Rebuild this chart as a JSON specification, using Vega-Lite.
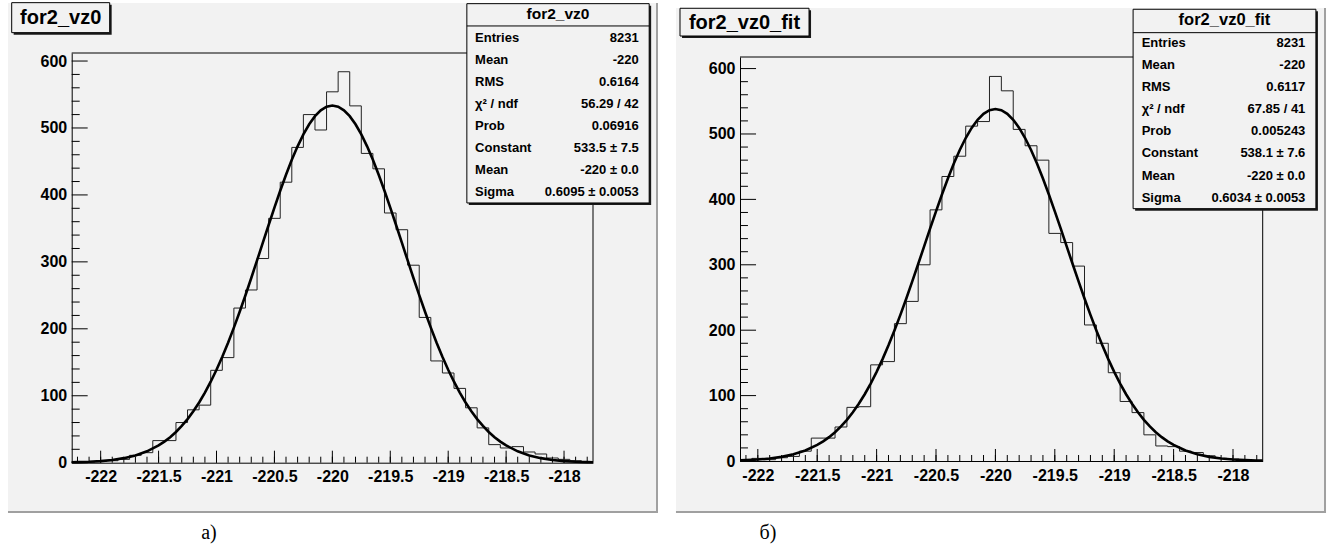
{
  "$schema": "https://vega.github.io/schema/vega-lite/v6.json",
  "background": "white",
  "padding": {"left": 7, "top": 2, "right": 2, "bottom": 0},
  "spacing": 18,
  "bounds": "flush",
  "config": {
    "view": {"stroke": null, "fill": "#f2f2f2"},
    "axis": {"grid": false, "labelFont": "Liberation Sans", "labelFontWeight": "bold", "labelFontSize": 16, "labelColor": "#000", "domainColor": "#000", "tickColor": "#000", "tickWidth": 1, "domainWidth": 1, "labelOverlap": false, "labelFlush": false},
    "text": {"font": "Liberation Sans", "fontWeight": "bold", "color": "#000"}
  },
  "datasets": {
    "one": [{}],
    "xmaj": [{"v": -222}, {"v": -221.5}, {"v": -221}, {"v": -220.5}, {"v": -220}, {"v": -219.5}, {"v": -219}, {"v": -218.5}, {"v": -218}],
    "xminA": [{"v": -222.2}, {"v": -222.1}, {"v": -222.0}, {"v": -221.9}, {"v": -221.8}, {"v": -221.7}, {"v": -221.6}, {"v": -221.5}, {"v": -221.4}, {"v": -221.3}, {"v": -221.2}, {"v": -221.1}, {"v": -221.0}, {"v": -220.9}, {"v": -220.8}, {"v": -220.7}, {"v": -220.6}, {"v": -220.5}, {"v": -220.4}, {"v": -220.3}, {"v": -220.2}, {"v": -220.1}, {"v": -220.0}, {"v": -219.9}, {"v": -219.8}, {"v": -219.7}, {"v": -219.6}, {"v": -219.5}, {"v": -219.4}, {"v": -219.3}, {"v": -219.2}, {"v": -219.1}, {"v": -219.0}, {"v": -218.9}, {"v": -218.8}, {"v": -218.7}, {"v": -218.6}, {"v": -218.5}, {"v": -218.4}, {"v": -218.3}, {"v": -218.2}, {"v": -218.1}, {"v": -218.0}, {"v": -217.9}, {"v": -217.8}],
    "xminB": [{"v": -222.1}, {"v": -222.0}, {"v": -221.9}, {"v": -221.8}, {"v": -221.7}, {"v": -221.6}, {"v": -221.5}, {"v": -221.4}, {"v": -221.3}, {"v": -221.2}, {"v": -221.1}, {"v": -221.0}, {"v": -220.9}, {"v": -220.8}, {"v": -220.7}, {"v": -220.6}, {"v": -220.5}, {"v": -220.4}, {"v": -220.3}, {"v": -220.2}, {"v": -220.1}, {"v": -220.0}, {"v": -219.9}, {"v": -219.8}, {"v": -219.7}, {"v": -219.6}, {"v": -219.5}, {"v": -219.4}, {"v": -219.3}, {"v": -219.2}, {"v": -219.1}, {"v": -219.0}, {"v": -218.9}, {"v": -218.8}, {"v": -218.7}, {"v": -218.6}, {"v": -218.5}, {"v": -218.4}, {"v": -218.3}, {"v": -218.2}, {"v": -218.1}, {"v": -218.0}, {"v": -217.9}, {"v": -217.8}],
    "ymaj": [{"v": 0}, {"v": 100}, {"v": 200}, {"v": 300}, {"v": 400}, {"v": 500}, {"v": 600}],
    "ymin": [{"v": 20}, {"v": 40}, {"v": 60}, {"v": 80}, {"v": 120}, {"v": 140}, {"v": 160}, {"v": 180}, {"v": 220}, {"v": 240}, {"v": 260}, {"v": 280}, {"v": 320}, {"v": 340}, {"v": 360}, {"v": 380}, {"v": 420}, {"v": 440}, {"v": 460}, {"v": 480}, {"v": 520}, {"v": 540}, {"v": 560}, {"v": 580}],
    "hA": [
      {"lo": -222.25, "n": 1}, {"lo": -222.15, "n": 1}, {"lo": -222.05, "n": 2}, {"lo": -221.95, "n": 3}, {"lo": -221.85, "n": 5},
      {"lo": -221.75, "n": 11}, {"lo": -221.65, "n": 15}, {"lo": -221.55, "n": 33}, {"lo": -221.45, "n": 33}, {"lo": -221.35, "n": 60},
      {"lo": -221.25, "n": 79}, {"lo": -221.15, "n": 86}, {"lo": -221.05, "n": 138}, {"lo": -220.95, "n": 157}, {"lo": -220.85, "n": 231},
      {"lo": -220.75, "n": 258}, {"lo": -220.65, "n": 305}, {"lo": -220.55, "n": 365}, {"lo": -220.45, "n": 419}, {"lo": -220.35, "n": 471},
      {"lo": -220.25, "n": 520}, {"lo": -220.15, "n": 497}, {"lo": -220.05, "n": 554}, {"lo": -219.95, "n": 584}, {"lo": -219.85, "n": 533},
      {"lo": -219.75, "n": 462}, {"lo": -219.65, "n": 439}, {"lo": -219.55, "n": 373}, {"lo": -219.45, "n": 348}, {"lo": -219.35, "n": 295},
      {"lo": -219.25, "n": 217}, {"lo": -219.15, "n": 152}, {"lo": -219.05, "n": 134}, {"lo": -218.95, "n": 111}, {"lo": -218.85, "n": 82},
      {"lo": -218.75, "n": 52}, {"lo": -218.65, "n": 27}, {"lo": -218.55, "n": 22}, {"lo": -218.45, "n": 24}, {"lo": -218.35, "n": 16},
      {"lo": -218.25, "n": 13}, {"lo": -218.15, "n": 7}, {"lo": -218.05, "n": 5}, {"lo": -217.95, "n": 3}, {"lo": -217.85, "n": 1}
    ],
    "hB": [
      {"lo": -222.15, "n": 1}, {"lo": -222.05, "n": 4}, {"lo": -221.95, "n": 2}, {"lo": -221.85, "n": 5}, {"lo": -221.75, "n": 7},
      {"lo": -221.65, "n": 15}, {"lo": -221.55, "n": 35}, {"lo": -221.45, "n": 35}, {"lo": -221.35, "n": 52}, {"lo": -221.25, "n": 82},
      {"lo": -221.15, "n": 83}, {"lo": -221.05, "n": 147}, {"lo": -220.95, "n": 152}, {"lo": -220.85, "n": 210}, {"lo": -220.75, "n": 244},
      {"lo": -220.65, "n": 300}, {"lo": -220.55, "n": 384}, {"lo": -220.45, "n": 435}, {"lo": -220.35, "n": 466}, {"lo": -220.25, "n": 512},
      {"lo": -220.15, "n": 519}, {"lo": -220.05, "n": 588}, {"lo": -219.95, "n": 566}, {"lo": -219.85, "n": 507}, {"lo": -219.75, "n": 482},
      {"lo": -219.65, "n": 460}, {"lo": -219.55, "n": 348}, {"lo": -219.45, "n": 334}, {"lo": -219.35, "n": 298}, {"lo": -219.25, "n": 208},
      {"lo": -219.15, "n": 180}, {"lo": -219.05, "n": 135}, {"lo": -218.95, "n": 91}, {"lo": -218.85, "n": 74}, {"lo": -218.75, "n": 40},
      {"lo": -218.65, "n": 23}, {"lo": -218.55, "n": 22}, {"lo": -218.45, "n": 15}, {"lo": -218.35, "n": 13}, {"lo": -218.25, "n": 8},
      {"lo": -218.15, "n": 4}, {"lo": -218.05, "n": 3}, {"lo": -217.95, "n": 1}, {"lo": -217.85, "n": 1}
    ],
    "fA": [
      {"x": -222.25, "f": 0.6}, {"x": -222.2, "f": 0.8}, {"x": -222.1, "f": 1.4}, {"x": -222.0, "f": 2.4}, {"x": -221.9, "f": 4.1},
      {"x": -221.8, "f": 6.8}, {"x": -221.7, "f": 10.9}, {"x": -221.6, "f": 17.0}, {"x": -221.5, "f": 25.8}, {"x": -221.45, "f": 31.5},
      {"x": -221.4, "f": 38.1}, {"x": -221.35, "f": 45.9}, {"x": -221.3, "f": 54.9}, {"x": -221.25, "f": 65.1}, {"x": -221.2, "f": 76.8},
      {"x": -221.15, "f": 90.0}, {"x": -221.1, "f": 104.7}, {"x": -221.05, "f": 121.0}, {"x": -221.0, "f": 138.9}, {"x": -220.95, "f": 158.3},
      {"x": -220.9, "f": 179.3}, {"x": -220.85, "f": 201.8}, {"x": -220.8, "f": 225.5}, {"x": -220.75, "f": 250.2}, {"x": -220.7, "f": 275.9},
      {"x": -220.65, "f": 302.1}, {"x": -220.6, "f": 328.6}, {"x": -220.55, "f": 355.1}, {"x": -220.5, "f": 381.1}, {"x": -220.45, "f": 406.2},
      {"x": -220.4, "f": 430.1}, {"x": -220.35, "f": 452.4}, {"x": -220.3, "f": 472.6}, {"x": -220.25, "f": 490.5}, {"x": -220.2, "f": 505.5},
      {"x": -220.15, "f": 517.6}, {"x": -220.1, "f": 526.4}, {"x": -220.05, "f": 531.7}, {"x": -220.0, "f": 533.5}, {"x": -219.95, "f": 531.7},
      {"x": -219.9, "f": 526.4}, {"x": -219.85, "f": 517.6}, {"x": -219.8, "f": 505.5}, {"x": -219.75, "f": 490.5}, {"x": -219.7, "f": 472.6},
      {"x": -219.65, "f": 452.4}, {"x": -219.6, "f": 430.1}, {"x": -219.55, "f": 406.2}, {"x": -219.5, "f": 381.1}, {"x": -219.45, "f": 355.1},
      {"x": -219.4, "f": 328.6}, {"x": -219.35, "f": 302.1}, {"x": -219.3, "f": 275.9}, {"x": -219.25, "f": 250.2}, {"x": -219.2, "f": 225.5},
      {"x": -219.15, "f": 201.8}, {"x": -219.1, "f": 179.3}, {"x": -219.05, "f": 158.3}, {"x": -219.0, "f": 138.9}, {"x": -218.95, "f": 121.0},
      {"x": -218.9, "f": 104.7}, {"x": -218.85, "f": 90.0}, {"x": -218.8, "f": 76.8}, {"x": -218.75, "f": 65.1}, {"x": -218.7, "f": 54.9},
      {"x": -218.65, "f": 45.9}, {"x": -218.6, "f": 38.1}, {"x": -218.55, "f": 31.5}, {"x": -218.5, "f": 25.8}, {"x": -218.4, "f": 17.0},
      {"x": -218.3, "f": 10.9}, {"x": -218.2, "f": 6.8}, {"x": -218.1, "f": 4.1}, {"x": -218.0, "f": 2.4}, {"x": -217.9, "f": 1.4},
      {"x": -217.8, "f": 0.8}, {"x": -217.75, "f": 0.6}
    ],
    "fB": [
      {"x": -222.15, "f": 1.0}, {"x": -222.1, "f": 1.3}, {"x": -222.0, "f": 2.2}, {"x": -221.9, "f": 3.8}, {"x": -221.8, "f": 6.3},
      {"x": -221.7, "f": 10.2}, {"x": -221.6, "f": 16.0}, {"x": -221.5, "f": 24.5}, {"x": -221.45, "f": 30.0}, {"x": -221.4, "f": 36.5},
      {"x": -221.35, "f": 44.0}, {"x": -221.3, "f": 52.9}, {"x": -221.25, "f": 63.0}, {"x": -221.2, "f": 74.5}, {"x": -221.15, "f": 87.5},
      {"x": -221.1, "f": 102.1}, {"x": -221.05, "f": 118.4}, {"x": -221.0, "f": 136.3}, {"x": -220.95, "f": 155.8}, {"x": -220.9, "f": 176.9},
      {"x": -220.85, "f": 199.5}, {"x": -220.8, "f": 223.4}, {"x": -220.75, "f": 248.5}, {"x": -220.7, "f": 274.6}, {"x": -220.65, "f": 301.2},
      {"x": -220.6, "f": 328.2}, {"x": -220.55, "f": 355.2}, {"x": -220.5, "f": 381.7}, {"x": -220.45, "f": 407.5}, {"x": -220.4, "f": 432.0},
      {"x": -220.35, "f": 454.8}, {"x": -220.3, "f": 475.5}, {"x": -220.25, "f": 493.8}, {"x": -220.2, "f": 509.3}, {"x": -220.15, "f": 521.7},
      {"x": -220.1, "f": 530.8}, {"x": -220.05, "f": 536.3}, {"x": -220.0, "f": 538.1}, {"x": -219.95, "f": 536.3}, {"x": -219.9, "f": 530.8},
      {"x": -219.85, "f": 521.7}, {"x": -219.8, "f": 509.3}, {"x": -219.75, "f": 493.8}, {"x": -219.7, "f": 475.5}, {"x": -219.65, "f": 454.8},
      {"x": -219.6, "f": 432.0}, {"x": -219.55, "f": 407.5}, {"x": -219.5, "f": 381.7}, {"x": -219.45, "f": 355.2}, {"x": -219.4, "f": 328.2},
      {"x": -219.35, "f": 301.2}, {"x": -219.3, "f": 274.6}, {"x": -219.25, "f": 248.5}, {"x": -219.2, "f": 223.4}, {"x": -219.15, "f": 199.5},
      {"x": -219.1, "f": 176.9}, {"x": -219.05, "f": 155.8}, {"x": -219.0, "f": 136.3}, {"x": -218.95, "f": 118.4}, {"x": -218.9, "f": 102.1},
      {"x": -218.85, "f": 87.5}, {"x": -218.8, "f": 74.5}, {"x": -218.75, "f": 63.0}, {"x": -218.7, "f": 52.9}, {"x": -218.65, "f": 44.0},
      {"x": -218.6, "f": 36.5}, {"x": -218.55, "f": 30.0}, {"x": -218.5, "f": 24.5}, {"x": -218.4, "f": 16.0}, {"x": -218.3, "f": 10.2},
      {"x": -218.2, "f": 6.3}, {"x": -218.1, "f": 3.8}, {"x": -218.0, "f": 2.2}, {"x": -217.9, "f": 1.3}, {"x": -217.8, "f": 0.7},
      {"x": -217.75, "f": 0.6}
    ]
  },
  "hconcat": [
    {
      "width": 650,
      "height": 510,
      "layer": [
        {"data": {"name": "one"}, "mark": {"type": "rect", "fill": "#a0a0a0"},
         "encoding": {"x": {"datum": -217.206, "type": "quantitative", "scale": {"domain": [-222.25, -217.75], "range": [63.7, 585], "nice": false, "zero": false}, "axis": {"orient": "bottom", "zindex": 1, "offset": -50.3, "values": [-222, -221.5, -221, -220.5, -220, -219.5, -219, -218.5, -218], "ticks": false, "labelPadding": 6, "labelExpr": "'' + datum.value", "domain": true, "title": null}}, "x2": {"datum": -217.189},
                      "y": {"datum": 686.7, "type": "quantitative", "scale": {"domain": [0, 612], "range": [459.7, 50], "nice": false, "zero": false}, "axis": {"orient": "left", "zindex": 1, "offset": -63.7, "values": [0, 100, 200, 300, 400, 500, 600], "ticks": false, "labelPadding": 5, "domain": true, "title": null}}, "y2": {"datum": -75.1}}},
        {"data": {"name": "one"}, "mark": {"type": "rect", "fill": "#a0a0a0"},
         "encoding": {"x": {"datum": -222.8, "type": "quantitative", "scale": {"domain": [-222.25, -217.75], "range": [63.7, 585], "nice": false, "zero": false}, "axis": {"orient": "bottom", "zindex": 1, "offset": -50.3, "values": [-222, -221.5, -221, -220.5, -220, -219.5, -219, -218.5, -218], "ticks": false, "labelPadding": 6, "labelExpr": "'' + datum.value", "domain": true, "title": null}}, "x2": {"datum": -217.189},
                      "y": {"datum": -72.2, "type": "quantitative", "scale": {"domain": [0, 612], "range": [459.7, 50], "nice": false, "zero": false}, "axis": {"orient": "left", "zindex": 1, "offset": -63.7, "values": [0, 100, 200, 300, 400, 500, 600], "ticks": false, "labelPadding": 5, "domain": true, "title": null}}, "y2": {"datum": -75.1}}},
        {"data": {"name": "one"}, "mark": {"type": "rule", "color": "#000", "strokeWidth": 1},
         "encoding": {"x": {"datum": -222.25, "type": "quantitative", "scale": {"domain": [-222.25, -217.75], "range": [63.7, 585], "nice": false, "zero": false}, "axis": {"orient": "bottom", "zindex": 1, "offset": -50.3, "values": [-222, -221.5, -221, -220.5, -220, -219.5, -219, -218.5, -218], "ticks": false, "labelPadding": 6, "labelExpr": "'' + datum.value", "domain": true, "title": null}},
                      "x2": {"datum": -217.75},
                      "y": {"datum": 612, "type": "quantitative", "scale": {"domain": [0, 612], "range": [459.7, 50], "nice": false, "zero": false}, "axis": {"orient": "left", "zindex": 1, "offset": -63.7, "values": [0, 100, 200, 300, 400, 500, 600], "ticks": false, "labelPadding": 5, "domain": true, "title": null}}}},
        {"data": {"name": "one"}, "mark": {"type": "rule", "color": "#000", "strokeWidth": 1},
         "encoding": {"x": {"datum": -217.75, "type": "quantitative", "scale": {"domain": [-222.25, -217.75], "range": [63.7, 585], "nice": false, "zero": false}, "axis": {"orient": "bottom", "zindex": 1, "offset": -50.3, "values": [-222, -221.5, -221, -220.5, -220, -219.5, -219, -218.5, -218], "ticks": false, "labelPadding": 6, "labelExpr": "'' + datum.value", "domain": true, "title": null}},
                      "y": {"datum": 0, "type": "quantitative", "scale": {"domain": [0, 612], "range": [459.7, 50], "nice": false, "zero": false}, "axis": {"orient": "left", "zindex": 1, "offset": -63.7, "values": [0, 100, 200, 300, 400, 500, 600], "ticks": false, "labelPadding": 5, "domain": true, "title": null}}, "y2": {"datum": 612}}},
        {"data": {"name": "xminA"}, "mark": {"type": "rule", "color": "#000", "strokeWidth": 1},
         "encoding": {"x": {"field": "v", "type": "quantitative", "scale": {"domain": [-222.25, -217.75], "range": [63.7, 585], "nice": false, "zero": false}, "axis": {"orient": "bottom", "zindex": 1, "offset": -50.3, "values": [-222, -221.5, -221, -220.5, -220, -219.5, -219, -218.5, -218], "ticks": false, "labelPadding": 6, "labelExpr": "'' + datum.value", "domain": true, "title": null}},
                      "y": {"datum": 0, "type": "quantitative", "scale": {"domain": [0, 612], "range": [459.7, 50], "nice": false, "zero": false}, "axis": {"orient": "left", "zindex": 1, "offset": -63.7, "values": [0, 100, 200, 300, 400, 500, 600], "ticks": false, "labelPadding": 5, "domain": true, "title": null}}, "y2": {"datum": 8.96}}},
        {"data": {"name": "xmaj"}, "mark": {"type": "rule", "color": "#000", "strokeWidth": 1},
         "encoding": {"x": {"field": "v", "type": "quantitative", "scale": {"domain": [-222.25, -217.75], "range": [63.7, 585], "nice": false, "zero": false}, "axis": {"orient": "bottom", "zindex": 1, "offset": -50.3, "values": [-222, -221.5, -221, -220.5, -220, -219.5, -219, -218.5, -218], "ticks": false, "labelPadding": 6, "labelExpr": "'' + datum.value", "domain": true, "title": null}},
                      "y": {"datum": 0, "type": "quantitative", "scale": {"domain": [0, 612], "range": [459.7, 50], "nice": false, "zero": false}, "axis": {"orient": "left", "zindex": 1, "offset": -63.7, "values": [0, 100, 200, 300, 400, 500, 600], "ticks": false, "labelPadding": 5, "domain": true, "title": null}}, "y2": {"datum": 17.93}}},
        {"data": {"name": "ymin"}, "mark": {"type": "rule", "color": "#000", "strokeWidth": 1},
         "encoding": {"y": {"field": "v", "type": "quantitative", "scale": {"domain": [0, 612], "range": [459.7, 50], "nice": false, "zero": false}, "axis": {"orient": "left", "zindex": 1, "offset": -63.7, "values": [0, 100, 200, 300, 400, 500, 600], "ticks": false, "labelPadding": 5, "domain": true, "title": null}},
                      "x": {"datum": -222.25, "type": "quantitative", "scale": {"domain": [-222.25, -217.75], "range": [63.7, 585], "nice": false, "zero": false}, "axis": {"orient": "bottom", "zindex": 1, "offset": -50.3, "values": [-222, -221.5, -221, -220.5, -220, -219.5, -219, -218.5, -218], "ticks": false, "labelPadding": 6, "labelExpr": "'' + datum.value", "domain": true, "title": null}}, "x2": {"datum": -222.181}}},
        {"data": {"name": "ymaj"}, "mark": {"type": "rule", "color": "#000", "strokeWidth": 1},
         "encoding": {"y": {"field": "v", "type": "quantitative", "scale": {"domain": [0, 612], "range": [459.7, 50], "nice": false, "zero": false}, "axis": {"orient": "left", "zindex": 1, "offset": -63.7, "values": [0, 100, 200, 300, 400, 500, 600], "ticks": false, "labelPadding": 5, "domain": true, "title": null}},
                      "x": {"datum": -222.25, "type": "quantitative", "scale": {"domain": [-222.25, -217.75], "range": [63.7, 585], "nice": false, "zero": false}, "axis": {"orient": "bottom", "zindex": 1, "offset": -50.3, "values": [-222, -221.5, -221, -220.5, -220, -219.5, -219, -218.5, -218], "ticks": false, "labelPadding": 6, "labelExpr": "'' + datum.value", "domain": true, "title": null}}, "x2": {"datum": -222.112}}},
        {"data": {"name": "hA"}, "mark": {"type": "line", "interpolate": "step-after", "color": "#222", "strokeWidth": 1},
         "encoding": {"x": {"field": "lo", "type": "quantitative", "scale": {"domain": [-222.25, -217.75], "range": [63.7, 585], "nice": false, "zero": false}, "axis": {"orient": "bottom", "zindex": 1, "offset": -50.3, "values": [-222, -221.5, -221, -220.5, -220, -219.5, -219, -218.5, -218], "ticks": false, "labelPadding": 6, "labelExpr": "'' + datum.value", "domain": true, "title": null}},
                      "y": {"field": "n", "type": "quantitative", "scale": {"domain": [0, 612], "range": [459.7, 50], "nice": false, "zero": false}, "axis": {"orient": "left", "zindex": 1, "offset": -63.7, "values": [0, 100, 200, 300, 400, 500, 600], "ticks": false, "labelPadding": 5, "domain": true, "title": null}}}},
        {"data": {"name": "fA"}, "mark": {"type": "line", "color": "#000", "strokeWidth": 2.6},
         "encoding": {"x": {"field": "x", "type": "quantitative", "scale": {"domain": [-222.25, -217.75], "range": [63.7, 585], "nice": false, "zero": false}, "axis": {"orient": "bottom", "zindex": 1, "offset": -50.3, "values": [-222, -221.5, -221, -220.5, -220, -219.5, -219, -218.5, -218], "ticks": false, "labelPadding": 6, "labelExpr": "'' + datum.value", "domain": true, "title": null}},
                      "y": {"field": "f", "type": "quantitative", "scale": {"domain": [0, 612], "range": [459.7, 50], "nice": false, "zero": false}, "axis": {"orient": "left", "zindex": 1, "offset": -63.7, "values": [0, 100, 200, 300, 400, 500, 600], "ticks": false, "labelPadding": 5, "domain": true, "title": null}}}},
        {"data": {"name": "one"}, "mark": {"type": "rect", "fill": "#1a1a1a"},
         "encoding": {"x": {"datum": -218.822, "type": "quantitative", "scale": {"domain": [-222.25, -217.75], "range": [63.7, 585], "nice": false, "zero": false}, "axis": {"orient": "bottom", "zindex": 1, "offset": -50.3, "values": [-222, -221.5, -221, -220.5, -220, -219.5, -219, -218.5, -218], "ticks": false, "labelPadding": 6, "labelExpr": "'' + datum.value", "domain": true, "title": null}}, "x2": {"datum": -217.248},
                      "y": {"datum": 682.7, "type": "quantitative", "scale": {"domain": [0, 612], "range": [459.7, 50], "nice": false, "zero": false}, "axis": {"orient": "left", "zindex": 1, "offset": -63.7, "values": [0, 100, 200, 300, 400, 500, 600], "ticks": false, "labelPadding": 5, "domain": true, "title": null}}, "y2": {"datum": 385.0}}},
        {"data": {"name": "one"}, "mark": {"type": "rect", "fill": "#f2f2f2", "stroke": "#000", "strokeWidth": 1},
         "encoding": {"x": {"datum": -218.839, "type": "quantitative", "scale": {"domain": [-222.25, -217.75], "range": [63.7, 585], "nice": false, "zero": false}, "axis": {"orient": "bottom", "zindex": 1, "offset": -50.3, "values": [-222, -221.5, -221, -220.5, -220, -219.5, -219, -218.5, -218], "ticks": false, "labelPadding": 6, "labelExpr": "'' + datum.value", "domain": true, "title": null}}, "x2": {"datum": -217.265},
                      "y": {"datum": 685.7, "type": "quantitative", "scale": {"domain": [0, 612], "range": [459.7, 50], "nice": false, "zero": false}, "axis": {"orient": "left", "zindex": 1, "offset": -63.7, "values": [0, 100, 200, 300, 400, 500, 600], "ticks": false, "labelPadding": 5, "domain": true, "title": null}}, "y2": {"datum": 388.0}}},
        {"data": {"name": "one"}, "mark": {"type": "rule", "color": "#000", "strokeWidth": 1},
         "encoding": {"x": {"datum": -218.839, "type": "quantitative", "scale": {"domain": [-222.25, -217.75], "range": [63.7, 585], "nice": false, "zero": false}, "axis": {"orient": "bottom", "zindex": 1, "offset": -50.3, "values": [-222, -221.5, -221, -220.5, -220, -219.5, -219, -218.5, -218], "ticks": false, "labelPadding": 6, "labelExpr": "'' + datum.value", "domain": true, "title": null}}, "x2": {"datum": -217.265},
                      "y": {"datum": 652.4, "type": "quantitative", "scale": {"domain": [0, 612], "range": [459.7, 50], "nice": false, "zero": false}, "axis": {"orient": "left", "zindex": 1, "offset": -63.7, "values": [0, 100, 200, 300, 400, 500, 600], "ticks": false, "labelPadding": 5, "domain": true, "title": null}}}},
        {"data": {"name": "one"}, "mark": {"type": "text", "text": "for2_vz0", "fontSize": 15.5, "align": "center", "baseline": "alphabetic"},
         "encoding": {"x": {"datum": -218.052, "type": "quantitative", "scale": {"domain": [-222.25, -217.75], "range": [63.7, 585], "nice": false, "zero": false}, "axis": {"orient": "bottom", "zindex": 1, "offset": -50.3, "values": [-222, -221.5, -221, -220.5, -220, -219.5, -219, -218.5, -218], "ticks": false, "labelPadding": 6, "labelExpr": "'' + datum.value", "domain": true, "title": null}},
                      "y": {"datum": 662.1, "type": "quantitative", "scale": {"domain": [0, 612], "range": [459.7, 50], "nice": false, "zero": false}, "axis": {"orient": "left", "zindex": 1, "offset": -63.7, "values": [0, 100, 200, 300, 400, 500, 600], "ticks": false, "labelPadding": 5, "domain": true, "title": null}}}},
        {"data": {"name": "one"}, "mark": {"type": "text", "text": ["Entries", "Mean", "RMS", "χ² / ndf", "Prob", "Constant", "Mean", "Sigma"], "fontSize": 13, "lineHeight": 22.1, "align": "left", "baseline": "alphabetic"},
         "encoding": {"x": {"datum": -218.768, "type": "quantitative", "scale": {"domain": [-222.25, -217.75], "range": [63.7, 585], "nice": false, "zero": false}, "axis": {"orient": "bottom", "zindex": 1, "offset": -50.3, "values": [-222, -221.5, -221, -220.5, -220, -219.5, -219, -218.5, -218], "ticks": false, "labelPadding": 6, "labelExpr": "'' + datum.value", "domain": true, "title": null}},
                      "y": {"datum": 628.9, "type": "quantitative", "scale": {"domain": [0, 612], "range": [459.7, 50], "nice": false, "zero": false}, "axis": {"orient": "left", "zindex": 1, "offset": -63.7, "values": [0, 100, 200, 300, 400, 500, 600], "ticks": false, "labelPadding": 5, "domain": true, "title": null}}}},
        {"data": {"name": "one"}, "mark": {"type": "text", "text": ["8231", "-220", "0.6164", "56.29 / 42", "0.06916", "533.5 ± 7.5", "-220 ± 0.0", "0.6095 ± 0.0053"], "fontSize": 13, "lineHeight": 22.1, "align": "right", "baseline": "alphabetic"},
         "encoding": {"x": {"datum": -217.355, "type": "quantitative", "scale": {"domain": [-222.25, -217.75], "range": [63.7, 585], "nice": false, "zero": false}, "axis": {"orient": "bottom", "zindex": 1, "offset": -50.3, "values": [-222, -221.5, -221, -220.5, -220, -219.5, -219, -218.5, -218], "ticks": false, "labelPadding": 6, "labelExpr": "'' + datum.value", "domain": true, "title": null}},
                      "y": {"datum": 628.9, "type": "quantitative", "scale": {"domain": [0, 612], "range": [459.7, 50], "nice": false, "zero": false}, "axis": {"orient": "left", "zindex": 1, "offset": -63.7, "values": [0, 100, 200, 300, 400, 500, 600], "ticks": false, "labelPadding": 5, "domain": true, "title": null}}}},
        {"data": {"name": "one"}, "mark": {"type": "rect", "fill": "#1a1a1a"},
         "encoding": {"x": {"datum": -222.751, "type": "quantitative", "scale": {"domain": [-222.25, -217.75], "range": [63.7, 585], "nice": false, "zero": false}, "axis": {"orient": "bottom", "zindex": 1, "offset": -50.3, "values": [-222, -221.5, -221, -220.5, -220, -219.5, -219, -218.5, -218], "ticks": false, "labelPadding": 6, "labelExpr": "'' + datum.value", "domain": true, "title": null}}, "x2": {"datum": -221.905},
                      "y": {"datum": 684.2, "type": "quantitative", "scale": {"domain": [0, 612], "range": [459.7, 50], "nice": false, "zero": false}, "axis": {"orient": "left", "zindex": 1, "offset": -63.7, "values": [0, 100, 200, 300, 400, 500, 600], "ticks": false, "labelPadding": 5, "domain": true, "title": null}}, "y2": {"datum": 639.4}}},
        {"data": {"name": "one"}, "mark": {"type": "rect", "fill": "#f2f2f2", "stroke": "#000", "strokeWidth": 1},
         "encoding": {"x": {"datum": -222.768, "type": "quantitative", "scale": {"domain": [-222.25, -217.75], "range": [63.7, 585], "nice": false, "zero": false}, "axis": {"orient": "bottom", "zindex": 1, "offset": -50.3, "values": [-222, -221.5, -221, -220.5, -220, -219.5, -219, -218.5, -218], "ticks": false, "labelPadding": 6, "labelExpr": "'' + datum.value", "domain": true, "title": null}}, "x2": {"datum": -221.922},
                      "y": {"datum": 687.2, "type": "quantitative", "scale": {"domain": [0, 612], "range": [459.7, 50], "nice": false, "zero": false}, "axis": {"orient": "left", "zindex": 1, "offset": -63.7, "values": [0, 100, 200, 300, 400, 500, 600], "ticks": false, "labelPadding": 5, "domain": true, "title": null}}, "y2": {"datum": 642.4}}},
        {"data": {"name": "one"}, "mark": {"type": "text", "text": "for2_vz0", "fontSize": 20, "align": "center", "baseline": "alphabetic"},
         "encoding": {"x": {"datum": -222.345, "type": "quantitative", "scale": {"domain": [-222.25, -217.75], "range": [63.7, 585], "nice": false, "zero": false}, "axis": {"orient": "bottom", "zindex": 1, "offset": -50.3, "values": [-222, -221.5, -221, -220.5, -220, -219.5, -219, -218.5, -218], "ticks": false, "labelPadding": 6, "labelExpr": "'' + datum.value", "domain": true, "title": null}},
                      "y": {"datum": 654.9, "type": "quantitative", "scale": {"domain": [0, 612], "range": [459.7, 50], "nice": false, "zero": false}, "axis": {"orient": "left", "zindex": 1, "offset": -63.7, "values": [0, 100, 200, 300, 400, 500, 600], "ticks": false, "labelPadding": 5, "domain": true, "title": null}}}},
        {"data": {"name": "one"}, "mark": {"type": "text", "text": "а)", "font": "Liberation Serif", "fontWeight": "normal", "fontSize": 20, "align": "center", "baseline": "alphabetic"},
         "encoding": {"x": {"datum": -221.065, "type": "quantitative", "scale": {"domain": [-222.25, -217.75], "range": [63.7, 585], "nice": false, "zero": false}, "axis": {"orient": "bottom", "zindex": 1, "offset": -50.3, "values": [-222, -221.5, -221, -220.5, -220, -219.5, -219, -218.5, -218], "ticks": false, "labelPadding": 6, "labelExpr": "'' + datum.value", "domain": true, "title": null}},
                      "y": {"datum": -114.0, "type": "quantitative", "scale": {"domain": [0, 612], "range": [459.7, 50], "nice": false, "zero": false}, "axis": {"orient": "left", "zindex": 1, "offset": -63.7, "values": [0, 100, 200, 300, 400, 500, 600], "ticks": false, "labelPadding": 5, "domain": true, "title": null}}}}
      ]
    },
    {
      "width": 650,
      "height": 510,
      "layer": [
        {"data": {"name": "one"}, "mark": {"type": "rect", "fill": "white"},
         "encoding": {"x": {"datum": -222.689, "type": "quantitative", "scale": {"domain": [-222.15, -217.75], "range": [64, 586.7], "nice": false, "zero": false}, "axis": {"orient": "bottom", "zindex": 1, "offset": -52, "values": [-222, -221.5, -221, -220.5, -220, -219.5, -219, -218.5, -218], "ticks": false, "labelPadding": 6, "labelExpr": "'' + datum.value", "domain": true, "title": null}}, "x2": {"datum": -217.217},
                      "y": {"datum": 700.3, "type": "quantitative", "scale": {"domain": [0, 617.7], "range": [458, 54], "nice": false, "zero": false}, "axis": {"orient": "left", "zindex": 1, "offset": -64, "values": [0, 100, 200, 300, 400, 500, 600], "ticks": false, "labelPadding": 5, "domain": true, "title": null}}, "y2": {"datum": 692.7}}},
        {"data": {"name": "one"}, "mark": {"type": "rect", "fill": "#a0a0a0"},
         "encoding": {"x": {"datum": -217.234, "type": "quantitative", "scale": {"domain": [-222.15, -217.75], "range": [64, 586.7], "nice": false, "zero": false}, "axis": {"orient": "bottom", "zindex": 1, "offset": -52, "values": [-222, -221.5, -221, -220.5, -220, -219.5, -219, -218.5, -218], "ticks": false, "labelPadding": 6, "labelExpr": "'' + datum.value", "domain": true, "title": null}}, "x2": {"datum": -217.217},
                      "y": {"datum": 692.7, "type": "quantitative", "scale": {"domain": [0, 617.7], "range": [458, 54], "nice": false, "zero": false}, "axis": {"orient": "left", "zindex": 1, "offset": -64, "values": [0, 100, 200, 300, 400, 500, 600], "ticks": false, "labelPadding": 5, "domain": true, "title": null}}, "y2": {"datum": -79.5}}},
        {"data": {"name": "one"}, "mark": {"type": "rect", "fill": "#a0a0a0"},
         "encoding": {"x": {"datum": -222.689, "type": "quantitative", "scale": {"domain": [-222.15, -217.75], "range": [64, 586.7], "nice": false, "zero": false}, "axis": {"orient": "bottom", "zindex": 1, "offset": -52, "values": [-222, -221.5, -221, -220.5, -220, -219.5, -219, -218.5, -218], "ticks": false, "labelPadding": 6, "labelExpr": "'' + datum.value", "domain": true, "title": null}}, "x2": {"datum": -217.217},
                      "y": {"datum": -76.5, "type": "quantitative", "scale": {"domain": [0, 617.7], "range": [458, 54], "nice": false, "zero": false}, "axis": {"orient": "left", "zindex": 1, "offset": -64, "values": [0, 100, 200, 300, 400, 500, 600], "ticks": false, "labelPadding": 5, "domain": true, "title": null}}, "y2": {"datum": -79.5}}},
        {"data": {"name": "one"}, "mark": {"type": "rule", "color": "#000", "strokeWidth": 1},
         "encoding": {"x": {"datum": -222.15, "type": "quantitative", "scale": {"domain": [-222.15, -217.75], "range": [64, 586.7], "nice": false, "zero": false}, "axis": {"orient": "bottom", "zindex": 1, "offset": -52, "values": [-222, -221.5, -221, -220.5, -220, -219.5, -219, -218.5, -218], "ticks": false, "labelPadding": 6, "labelExpr": "'' + datum.value", "domain": true, "title": null}},
                      "x2": {"datum": -217.75},
                      "y": {"datum": 617.7, "type": "quantitative", "scale": {"domain": [0, 617.7], "range": [458, 54], "nice": false, "zero": false}, "axis": {"orient": "left", "zindex": 1, "offset": -64, "values": [0, 100, 200, 300, 400, 500, 600], "ticks": false, "labelPadding": 5, "domain": true, "title": null}}}},
        {"data": {"name": "one"}, "mark": {"type": "rule", "color": "#000", "strokeWidth": 1},
         "encoding": {"x": {"datum": -217.75, "type": "quantitative", "scale": {"domain": [-222.15, -217.75], "range": [64, 586.7], "nice": false, "zero": false}, "axis": {"orient": "bottom", "zindex": 1, "offset": -52, "values": [-222, -221.5, -221, -220.5, -220, -219.5, -219, -218.5, -218], "ticks": false, "labelPadding": 6, "labelExpr": "'' + datum.value", "domain": true, "title": null}},
                      "y": {"datum": 0, "type": "quantitative", "scale": {"domain": [0, 617.7], "range": [458, 54], "nice": false, "zero": false}, "axis": {"orient": "left", "zindex": 1, "offset": -64, "values": [0, 100, 200, 300, 400, 500, 600], "ticks": false, "labelPadding": 5, "domain": true, "title": null}}, "y2": {"datum": 617.7}}},
        {"data": {"name": "xminB"}, "mark": {"type": "rule", "color": "#000", "strokeWidth": 1},
         "encoding": {"x": {"field": "v", "type": "quantitative", "scale": {"domain": [-222.15, -217.75], "range": [64, 586.7], "nice": false, "zero": false}, "axis": {"orient": "bottom", "zindex": 1, "offset": -52, "values": [-222, -221.5, -221, -220.5, -220, -219.5, -219, -218.5, -218], "ticks": false, "labelPadding": 6, "labelExpr": "'' + datum.value", "domain": true, "title": null}},
                      "y": {"datum": 0, "type": "quantitative", "scale": {"domain": [0, 617.7], "range": [458, 54], "nice": false, "zero": false}, "axis": {"orient": "left", "zindex": 1, "offset": -64, "values": [0, 100, 200, 300, 400, 500, 600], "ticks": false, "labelPadding": 5, "domain": true, "title": null}}, "y2": {"datum": 9.17}}},
        {"data": {"name": "xmaj"}, "mark": {"type": "rule", "color": "#000", "strokeWidth": 1},
         "encoding": {"x": {"field": "v", "type": "quantitative", "scale": {"domain": [-222.15, -217.75], "range": [64, 586.7], "nice": false, "zero": false}, "axis": {"orient": "bottom", "zindex": 1, "offset": -52, "values": [-222, -221.5, -221, -220.5, -220, -219.5, -219, -218.5, -218], "ticks": false, "labelPadding": 6, "labelExpr": "'' + datum.value", "domain": true, "title": null}},
                      "y": {"datum": 0, "type": "quantitative", "scale": {"domain": [0, 617.7], "range": [458, 54], "nice": false, "zero": false}, "axis": {"orient": "left", "zindex": 1, "offset": -64, "values": [0, 100, 200, 300, 400, 500, 600], "ticks": false, "labelPadding": 5, "domain": true, "title": null}}, "y2": {"datum": 18.35}}},
        {"data": {"name": "ymin"}, "mark": {"type": "rule", "color": "#000", "strokeWidth": 1},
         "encoding": {"y": {"field": "v", "type": "quantitative", "scale": {"domain": [0, 617.7], "range": [458, 54], "nice": false, "zero": false}, "axis": {"orient": "left", "zindex": 1, "offset": -64, "values": [0, 100, 200, 300, 400, 500, 600], "ticks": false, "labelPadding": 5, "domain": true, "title": null}},
                      "x": {"datum": -222.15, "type": "quantitative", "scale": {"domain": [-222.15, -217.75], "range": [64, 586.7], "nice": false, "zero": false}, "axis": {"orient": "bottom", "zindex": 1, "offset": -52, "values": [-222, -221.5, -221, -220.5, -220, -219.5, -219, -218.5, -218], "ticks": false, "labelPadding": 6, "labelExpr": "'' + datum.value", "domain": true, "title": null}}, "x2": {"datum": -222.083}}},
        {"data": {"name": "ymaj"}, "mark": {"type": "rule", "color": "#000", "strokeWidth": 1},
         "encoding": {"y": {"field": "v", "type": "quantitative", "scale": {"domain": [0, 617.7], "range": [458, 54], "nice": false, "zero": false}, "axis": {"orient": "left", "zindex": 1, "offset": -64, "values": [0, 100, 200, 300, 400, 500, 600], "ticks": false, "labelPadding": 5, "domain": true, "title": null}},
                      "x": {"datum": -222.15, "type": "quantitative", "scale": {"domain": [-222.15, -217.75], "range": [64, 586.7], "nice": false, "zero": false}, "axis": {"orient": "bottom", "zindex": 1, "offset": -52, "values": [-222, -221.5, -221, -220.5, -220, -219.5, -219, -218.5, -218], "ticks": false, "labelPadding": 6, "labelExpr": "'' + datum.value", "domain": true, "title": null}}, "x2": {"datum": -222.015}}},
        {"data": {"name": "hB"}, "mark": {"type": "line", "interpolate": "step-after", "color": "#222", "strokeWidth": 1},
         "encoding": {"x": {"field": "lo", "type": "quantitative", "scale": {"domain": [-222.15, -217.75], "range": [64, 586.7], "nice": false, "zero": false}, "axis": {"orient": "bottom", "zindex": 1, "offset": -52, "values": [-222, -221.5, -221, -220.5, -220, -219.5, -219, -218.5, -218], "ticks": false, "labelPadding": 6, "labelExpr": "'' + datum.value", "domain": true, "title": null}},
                      "y": {"field": "n", "type": "quantitative", "scale": {"domain": [0, 617.7], "range": [458, 54], "nice": false, "zero": false}, "axis": {"orient": "left", "zindex": 1, "offset": -64, "values": [0, 100, 200, 300, 400, 500, 600], "ticks": false, "labelPadding": 5, "domain": true, "title": null}}}},
        {"data": {"name": "fB"}, "mark": {"type": "line", "color": "#000", "strokeWidth": 2.6},
         "encoding": {"x": {"field": "x", "type": "quantitative", "scale": {"domain": [-222.15, -217.75], "range": [64, 586.7], "nice": false, "zero": false}, "axis": {"orient": "bottom", "zindex": 1, "offset": -52, "values": [-222, -221.5, -221, -220.5, -220, -219.5, -219, -218.5, -218], "ticks": false, "labelPadding": 6, "labelExpr": "'' + datum.value", "domain": true, "title": null}},
                      "y": {"field": "f", "type": "quantitative", "scale": {"domain": [0, 617.7], "range": [458, 54], "nice": false, "zero": false}, "axis": {"orient": "left", "zindex": 1, "offset": -64, "values": [0, 100, 200, 300, 400, 500, 600], "ticks": false, "labelPadding": 5, "domain": true, "title": null}}}},
        {"data": {"name": "one"}, "mark": {"type": "rect", "fill": "#1a1a1a"},
         "encoding": {"x": {"datum": -218.824, "type": "quantitative", "scale": {"domain": [-222.15, -217.75], "range": [64, 586.7], "nice": false, "zero": false}, "axis": {"orient": "bottom", "zindex": 1, "offset": -52, "values": [-222, -221.5, -221, -220.5, -220, -219.5, -219, -218.5, -218], "ticks": false, "labelPadding": 6, "labelExpr": "'' + datum.value", "domain": true, "title": null}}, "x2": {"datum": -217.285},
                      "y": {"datum": 687.6, "type": "quantitative", "scale": {"domain": [0, 617.7], "range": [458, 54], "nice": false, "zero": false}, "axis": {"orient": "left", "zindex": 1, "offset": -64, "values": [0, 100, 200, 300, 400, 500, 600], "ticks": false, "labelPadding": 5, "domain": true, "title": null}}, "y2": {"datum": 382.7}}},
        {"data": {"name": "one"}, "mark": {"type": "rect", "fill": "#f2f2f2", "stroke": "#000", "strokeWidth": 1},
         "encoding": {"x": {"datum": -218.841, "type": "quantitative", "scale": {"domain": [-222.15, -217.75], "range": [64, 586.7], "nice": false, "zero": false}, "axis": {"orient": "bottom", "zindex": 1, "offset": -52, "values": [-222, -221.5, -221, -220.5, -220, -219.5, -219, -218.5, -218], "ticks": false, "labelPadding": 6, "labelExpr": "'' + datum.value", "domain": true, "title": null}}, "x2": {"datum": -217.302},
                      "y": {"datum": 690.7, "type": "quantitative", "scale": {"domain": [0, 617.7], "range": [458, 54], "nice": false, "zero": false}, "axis": {"orient": "left", "zindex": 1, "offset": -64, "values": [0, 100, 200, 300, 400, 500, 600], "ticks": false, "labelPadding": 5, "domain": true, "title": null}}, "y2": {"datum": 385.8}}},
        {"data": {"name": "one"}, "mark": {"type": "rule", "color": "#000", "strokeWidth": 1},
         "encoding": {"x": {"datum": -218.841, "type": "quantitative", "scale": {"domain": [-222.15, -217.75], "range": [64, 586.7], "nice": false, "zero": false}, "axis": {"orient": "bottom", "zindex": 1, "offset": -52, "values": [-222, -221.5, -221, -220.5, -220, -219.5, -219, -218.5, -218], "ticks": false, "labelPadding": 6, "labelExpr": "'' + datum.value", "domain": true, "title": null}}, "x2": {"datum": -217.302},
                      "y": {"datum": 654.9, "type": "quantitative", "scale": {"domain": [0, 617.7], "range": [458, 54], "nice": false, "zero": false}, "axis": {"orient": "left", "zindex": 1, "offset": -64, "values": [0, 100, 200, 300, 400, 500, 600], "ticks": false, "labelPadding": 5, "domain": true, "title": null}}}},
        {"data": {"name": "one"}, "mark": {"type": "text", "text": "for2_vz0_fit", "fontSize": 16.5, "align": "center", "baseline": "alphabetic"},
         "encoding": {"x": {"datum": -218.072, "type": "quantitative", "scale": {"domain": [-222.15, -217.75], "range": [64, 586.7], "nice": false, "zero": false}, "axis": {"orient": "bottom", "zindex": 1, "offset": -52, "values": [-222, -221.5, -221, -220.5, -220, -219.5, -219, -218.5, -218], "ticks": false, "labelPadding": 6, "labelExpr": "'' + datum.value", "domain": true, "title": null}},
                      "y": {"datum": 665.9, "type": "quantitative", "scale": {"domain": [0, 617.7], "range": [458, 54], "nice": false, "zero": false}, "axis": {"orient": "left", "zindex": 1, "offset": -64, "values": [0, 100, 200, 300, 400, 500, 600], "ticks": false, "labelPadding": 5, "domain": true, "title": null}}}},
        {"data": {"name": "one"}, "mark": {"type": "text", "text": ["Entries", "Mean", "RMS", "χ² / ndf", "Prob", "Constant", "Mean", "Sigma"], "fontSize": 13, "lineHeight": 22.1, "align": "left", "baseline": "alphabetic"},
         "encoding": {"x": {"datum": -218.769, "type": "quantitative", "scale": {"domain": [-222.15, -217.75], "range": [64, 586.7], "nice": false, "zero": false}, "axis": {"orient": "bottom", "zindex": 1, "offset": -52, "values": [-222, -221.5, -221, -220.5, -220, -219.5, -219, -218.5, -218], "ticks": false, "labelPadding": 6, "labelExpr": "'' + datum.value", "domain": true, "title": null}},
                      "y": {"datum": 633.0, "type": "quantitative", "scale": {"domain": [0, 617.7], "range": [458, 54], "nice": false, "zero": false}, "axis": {"orient": "left", "zindex": 1, "offset": -64, "values": [0, 100, 200, 300, 400, 500, 600], "ticks": false, "labelPadding": 5, "domain": true, "title": null}}}},
        {"data": {"name": "one"}, "mark": {"type": "text", "text": ["8231", "-220", "0.6117", "67.85 / 41", "0.005243", "538.1 ± 7.6", "-220 ± 0.0", "0.6034 ± 0.0053"], "fontSize": 13, "lineHeight": 22.1, "align": "right", "baseline": "alphabetic"},
         "encoding": {"x": {"datum": -217.391, "type": "quantitative", "scale": {"domain": [-222.15, -217.75], "range": [64, 586.7], "nice": false, "zero": false}, "axis": {"orient": "bottom", "zindex": 1, "offset": -52, "values": [-222, -221.5, -221, -220.5, -220, -219.5, -219, -218.5, -218], "ticks": false, "labelPadding": 6, "labelExpr": "'' + datum.value", "domain": true, "title": null}},
                      "y": {"datum": 633.0, "type": "quantitative", "scale": {"domain": [0, 617.7], "range": [458, 54], "nice": false, "zero": false}, "axis": {"orient": "left", "zindex": 1, "offset": -64, "values": [0, 100, 200, 300, 400, 500, 600], "ticks": false, "labelPadding": 5, "domain": true, "title": null}}}},
        {"data": {"name": "one"}, "mark": {"type": "rect", "fill": "#1a1a1a"},
         "encoding": {"x": {"datum": -222.638, "type": "quantitative", "scale": {"domain": [-222.15, -217.75], "range": [64, 586.7], "nice": false, "zero": false}, "axis": {"orient": "bottom", "zindex": 1, "offset": -52, "values": [-222, -221.5, -221, -220.5, -220, -219.5, -219, -218.5, -218], "ticks": false, "labelPadding": 6, "labelExpr": "'' + datum.value", "domain": true, "title": null}}, "x2": {"datum": -221.552},
                      "y": {"datum": 689.1, "type": "quantitative", "scale": {"domain": [0, 617.7], "range": [458, 54], "nice": false, "zero": false}, "axis": {"orient": "left", "zindex": 1, "offset": -64, "values": [0, 100, 200, 300, 400, 500, 600], "ticks": false, "labelPadding": 5, "domain": true, "title": null}}, "y2": {"datum": 646.7}}},
        {"data": {"name": "one"}, "mark": {"type": "rect", "fill": "#f2f2f2", "stroke": "#000", "strokeWidth": 1},
         "encoding": {"x": {"datum": -222.655, "type": "quantitative", "scale": {"domain": [-222.15, -217.75], "range": [64, 586.7], "nice": false, "zero": false}, "axis": {"orient": "bottom", "zindex": 1, "offset": -52, "values": [-222, -221.5, -221, -220.5, -220, -219.5, -219, -218.5, -218], "ticks": false, "labelPadding": 6, "labelExpr": "'' + datum.value", "domain": true, "title": null}}, "x2": {"datum": -221.569},
                      "y": {"datum": 692.2, "type": "quantitative", "scale": {"domain": [0, 617.7], "range": [458, 54], "nice": false, "zero": false}, "axis": {"orient": "left", "zindex": 1, "offset": -64, "values": [0, 100, 200, 300, 400, 500, 600], "ticks": false, "labelPadding": 5, "domain": true, "title": null}}, "y2": {"datum": 649.8}}},
        {"data": {"name": "one"}, "mark": {"type": "text", "text": "for2_vz0_fit", "fontSize": 20, "align": "center", "baseline": "alphabetic"},
         "encoding": {"x": {"datum": -222.112, "type": "quantitative", "scale": {"domain": [-222.15, -217.75], "range": [64, 586.7], "nice": false, "zero": false}, "axis": {"orient": "bottom", "zindex": 1, "offset": -52, "values": [-222, -221.5, -221, -220.5, -220, -219.5, -219, -218.5, -218], "ticks": false, "labelPadding": 6, "labelExpr": "'' + datum.value", "domain": true, "title": null}},
                      "y": {"datum": 660.6, "type": "quantitative", "scale": {"domain": [0, 617.7], "range": [458, 54], "nice": false, "zero": false}, "axis": {"orient": "left", "zindex": 1, "offset": -64, "values": [0, 100, 200, 300, 400, 500, 600], "ticks": false, "labelPadding": 5, "domain": true, "title": null}}}},
        {"data": {"name": "one"}, "mark": {"type": "text", "text": "б)", "font": "Liberation Serif", "fontWeight": "normal", "fontSize": 20, "align": "center", "baseline": "alphabetic"},
         "encoding": {"x": {"datum": -221.914, "type": "quantitative", "scale": {"domain": [-222.15, -217.75], "range": [64, 586.7], "nice": false, "zero": false}, "axis": {"orient": "bottom", "zindex": 1, "offset": -52, "values": [-222, -221.5, -221, -220.5, -220, -219.5, -219, -218.5, -218], "ticks": false, "labelPadding": 6, "labelExpr": "'' + datum.value", "domain": true, "title": null}},
                      "y": {"datum": -119.3, "type": "quantitative", "scale": {"domain": [0, 617.7], "range": [458, 54], "nice": false, "zero": false}, "axis": {"orient": "left", "zindex": 1, "offset": -64, "values": [0, 100, 200, 300, 400, 500, 600], "ticks": false, "labelPadding": 5, "domain": true, "title": null}}}}
      ]
    }
  ]
}
